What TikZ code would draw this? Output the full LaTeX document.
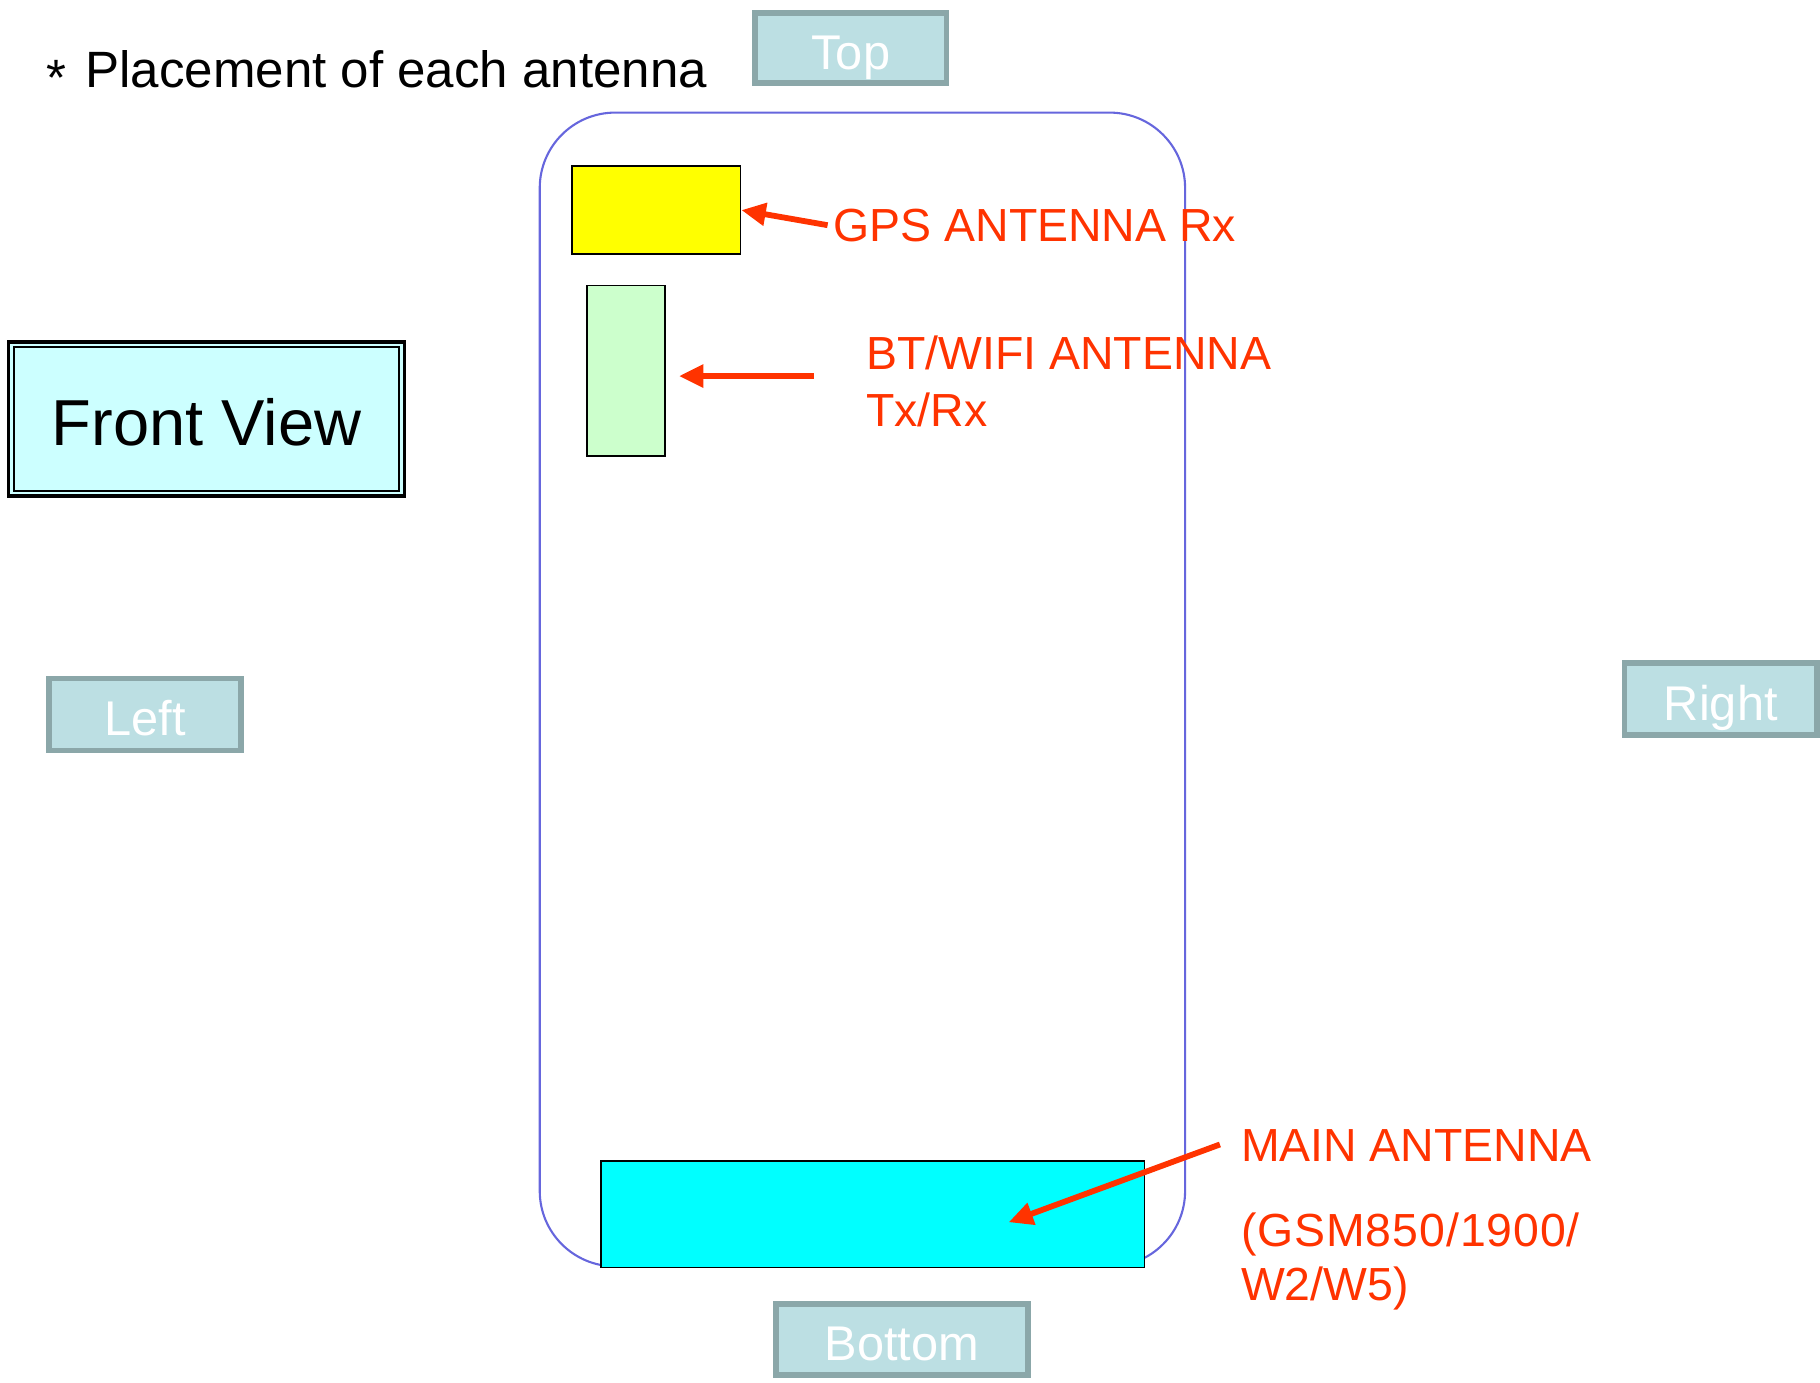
\documentclass[tikz,border=0pt]{standalone}
\usepackage{fontspec}
\setmainfont{Liberation Sans}
\usetikzlibrary{arrows.meta}
\definecolor{phoneblue}{RGB}{102,102,221}
\definecolor{lblfill}{RGB}{188,223,227}
\definecolor{lbldraw}{RGB}{139,167,169}
\definecolor{redtxt}{RGB}{255,51,0}
\definecolor{fvfill}{RGB}{204,255,255}
\definecolor{gpsfill}{RGB}{255,255,0}
\definecolor{btfill}{RGB}{204,255,204}
\definecolor{mainfill}{RGB}{0,255,255}
\begin{document}
\begin{tikzpicture}[x=1pt,y=-1pt,
  sidebox/.style={draw=lbldraw, line width=5pt, fill=lblfill, text=white, inner sep=0pt,
    font=\fontsize{42}{50}\selectfont, text height=37pt, text depth=0pt},
  antbox/.style={draw=black, line width=1.5pt, inner sep=0pt},
  redlbl/.style={text=redtxt, font=\fontsize{40}{49}\selectfont, align=left, inner sep=0pt},
  redarrow/.style={draw=redtxt, line width=5pt, -{Triangle[length=21pt,width=19pt]}}
]
\useasboundingbox[fill=white] (0,0) rectangle (1568,1191.5);

% title
\node[anchor=base west, inner sep=0pt, font=\fontsize{44}{52}\selectfont] (title) at (40,75)
  {\raisebox{-7pt}{*}\hspace{4pt} Placement of each antenna};

% side labels
\node[sidebox, minimum width=165pt, minimum height=60pt] (top) at (733,41.5) {Top};
\node[sidebox, minimum width=165pt, minimum height=62pt] (left) at (125,615.5) {Left};
\node[sidebox, minimum width=166pt, minimum height=62pt] (right) at (1482.5,602.5) {Right};
\node[sidebox, minimum width=217pt, minimum height=61pt] (bottom) at (777,1154) {Bottom};

% front view
\node[draw=black, line width=3pt, fill=fvfill,
  minimum width=341pt, minimum height=133pt, inner sep=0pt,
  font=\fontsize{56}{64}\selectfont, text height=46pt, text depth=0pt] (front) at (178,361) {Front View};
\draw[line width=1.5pt] ([shift={(6,6)}]front.north west) rectangle ([shift={(-6,-6)}]front.south east);

% phone outline
\node[draw=phoneblue, line width=1.8pt, rounded corners=65pt, minimum width=556pt,
  minimum height=994pt, inner sep=0pt] (phone) at (743,594) {};

% antennas
\node[antbox, fill=gpsfill, minimum width=145pt, minimum height=76pt] (gps) at (565.5,181) {};
\node[antbox, fill=btfill, minimum width=67pt, minimum height=147pt] (bt) at (539.5,319.5) {};
\node[antbox, fill=mainfill, minimum width=468pt, minimum height=92pt] (main) at (752,1046) {};

% labels
\node[redlbl, anchor=base west] (gpslbl) at (718,208) {GPS ANTENNA Rx};
\node[redlbl, anchor=north west] (btlbl) at (746,289) {BT/WIFI ANTENNA\\Tx/Rx};
\node[redlbl, anchor=north west, font=\fontsize{40}{47}\selectfont] (mainlbl) at (1069,973)
  {MAIN ANTENNA\\[26pt]\addfontfeature{LetterSpace=2}(GSM850/1900/\\W2/W5)};

% arrows
\coordinate (gpstail) at (713,194);
\coordinate (bttail) at (701,324);
\coordinate (bttip) at (585,324);
\coordinate (maintail) at (1051,986);
\coordinate (maintip) at (869,1053);
\draw[redarrow] (gpstail) -- (gps.east);
\draw[redarrow] (bttail) -- (bttip);
\draw[redarrow] (maintail) -- (maintip);
\end{tikzpicture}
\end{document}
